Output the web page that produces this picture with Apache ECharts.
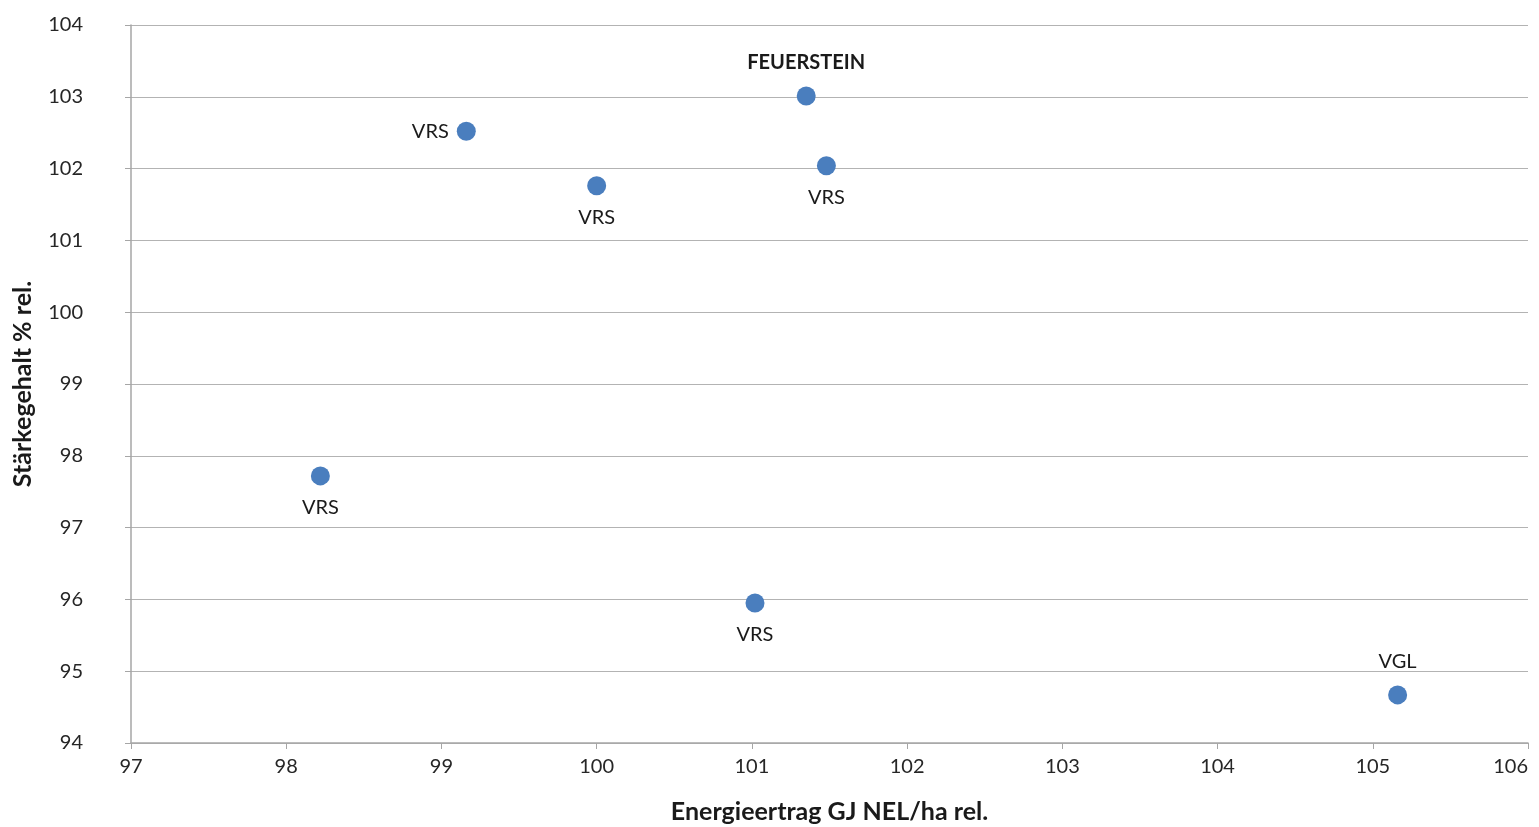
<!DOCTYPE html>
<html>
<head>
<meta charset="utf-8">
<script src="https://cdn.jsdelivr.net/npm/echarts@6/dist/echarts.min.js"></script>
<style>html,body{margin:0;padding:0;background:#fff;}#c{width:1539px;height:827px;}</style>
</head>
<body>
<div id="c"></div>
<script>
const names = ['FEUERSTEIN','VRS','VRS','VRS','VRS','VRS','VGL'];
const energy = [101.35, 99.16, 100.0, 101.48, 98.22, 101.02, 105.16];
const starch = [103.01, 102.52, 101.76, 102.04, 97.72, 95.95, 94.67];
const labelSide = ['top','left','bottom','bottom','bottom','bottom','top'];
const xTicks = [97,98,99,100,101,102,103,104,105,106];
const yTicks = [94,95,96,97,98,99,100,101,102,103,104];

const font = 'Lato, "Open Sans", sans-serif';
const data = names.map((n,i)=>({
  value:[energy[i], starch[i]],
  name:n,
  label:{
    show:true,
    position:labelSide[i],
    distance: labelSide[i]==='left'?8:(labelSide[i]==='top'?14:12),
    formatter:n,
    fontWeight: n==='FEUERSTEIN'?'bold':'normal',
    fontSize:20,
    color:'#1a1a1a',
    fontFamily:font
  }
}));

const chart = echarts.init(document.getElementById('c'));
chart.setOption({
  animation:false,
  grid:{left:131,right:11,top:25,bottom:84,containLabel:false,outerBoundsMode:'none'},
  xAxis:{
    type:'value',min:xTicks[0],max:xTicks[xTicks.length-1],interval:1,
    name:'Energieertrag GJ NEL/ha rel.',nameLocation:'middle',nameGap:56,
    nameTextStyle:{fontSize:25,fontWeight:'bold',color:'#1a1a1a',fontFamily:font},
    axisLine:{show:true,lineStyle:{color:'#a6a6a6',width:1.5}},
    axisTick:{show:true,length:6,lineStyle:{color:'#a6a6a6'}},
    axisLabel:{fontSize:20,color:'#262626',margin:14,fontFamily:font,alignMaxLabel:'right'},
    splitLine:{show:false}
  },
  yAxis:{
    type:'value',min:yTicks[0],max:yTicks[yTicks.length-1],interval:1,
    name:'Stärkegehalt % rel.',nameLocation:'middle',nameGap:96,nameRotate:90,
    nameTextStyle:{fontSize:25,fontWeight:'bold',color:'#1a1a1a',fontFamily:font},
    axisLine:{show:true,lineStyle:{color:'#a6a6a6',width:1.5}},
    axisTick:{show:true,length:6,lineStyle:{color:'#a6a6a6'}},
    axisLabel:{fontSize:20,color:'#262626',margin:48,fontFamily:font,align:'right'},
    splitLine:{show:true,lineStyle:{color:'#b3b3b3',width:1.2}}
  },
  series:[{
    type:'scatter',
    symbol:'circle',
    symbolSize:19,
    itemStyle:{color:'#4A7EBE',opacity:1},
    data:data
  }]
});
</script>
</body>
</html>
